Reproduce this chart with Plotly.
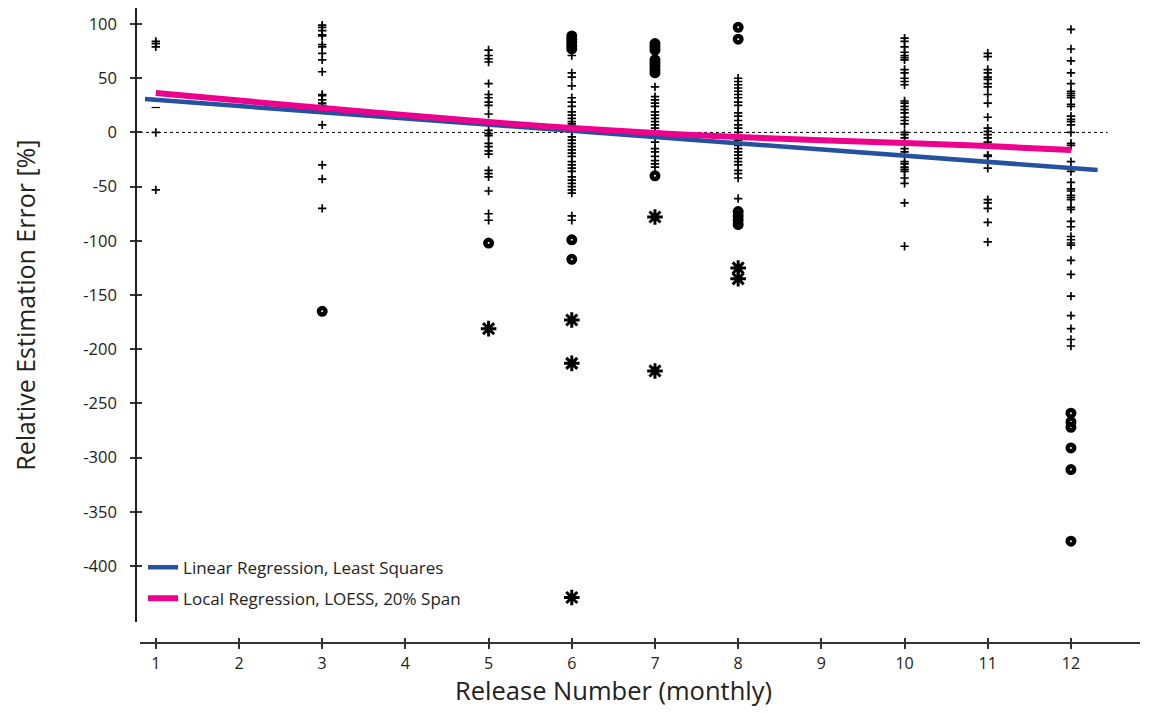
import plotly.graph_objects as go

# ---------------- data ----------------
x_ticks = [1, 2, 3, 4, 5, 6, 7, 8, 9, 10, 11, 12]
y_ticks = [100, 50, 0, -50, -100, -150, -200, -250, -300, -350, -400]

# small "+" markers, per release
plus_r1 = [84, 82, 79, 0, -53]
plus_r3 = [99, 97, 94, 90, 89, 81, 79, 73, 67, 56, 35, 34, 30, 27, 25, 7, -30, -43, -70]
plus_r5 = [76, 71, 68, 65, 45, 35, 32, 28, 25, 17, 2, -1, -3, -10, -13, -17, -20, -35, -38, -41, -54, -75, -81]
plus_r6 = [71, 55, 51, 43, 32, 28, 24, 19, 16, 13, 10, 8, 6, 4, 1, -4, -7, -10, -13, -16, -19, -22,
           -27, -30, -33, -36, -41, -44, -47, -50, -53, -56, -77, -81]
plus_r7 = [42, 33, 30, 27, 24, 19, 16, 13, 10, 7, 4, 1, -9, -15, -18, -22, -26, -29, -32]
plus_r8 = [50, 47, 44, 41, 38, 35, 32, 28, 25, 18, 15, 11, 7, 4, 0, -7, -12, -15, -18, -21, -24, -27,
           -30, -35, -38, -42, -61]
plus_r10 = [87, 84, 79, 74, 71, 69, 67, 58, 55, 50, 47, 44, 29, 27, 24, 21, 18, 14, 11, 8, 0, -2, -5,
            -15, -18, -27, -29, -32, -34, -36, -42, -47, -65, -105]
plus_r11 = [73, 70, 58, 55, 51, 49, 45, 42, 35, 27, 14, 4, 1, -2, -5, -9, -21, -22, -33, -62, -65, -70, -83, -101]
plus_r12 = [95, 77, 66, 55, 45, 38, 36, 34, 32, 26, 24, 15, 12, 10, 7, 0, -10, -12, -27, -36, -46, -52,
            -54, -58, -60, -62, -69, -71, -82, -87, -96, -99, -102, -104, -118, -131, -151, -169, -181,
            -191, -197]

# dash marker
dash_x = [1]
dash_y = [23]

# bold circle markers
circle_x = [3, 5, 6, 6, 6, 6, 6, 6, 6, 7, 7, 7, 7, 7, 7, 7, 7, 7, 8, 8, 8, 8, 8, 8,
            12, 12, 12, 12, 12, 12]
circle_y = [-165, -102, 89, 86, 83, 80, 77, -99, -117, 82, 79, 76, 67, 64, 61, 58, 55, -40,
            97, 86, -73, -77, -81, -85, -259, -267, -272, -291, -311, -377]

# asterisk markers
star_x = [5, 6, 6, 6, 7, 7, 8, 8]
star_y = [-181, -173, -213, -429, -78, -220, -125, -135]

# regression lines
lin_x = [0.87, 12.32]
lin_y = [30.8, -34.7]
loess_x = [1, 3, 5, 6, 7, 8, 10, 11, 12]
loess_y = [36.3, 22.5, 9.6, 4.0, -0.5, -4.2, -9.8, -12.6, -16.2]

# zero reference line
zero_x = [0.81, 12.44]
zero_y = [0, 0]

# ---------------- figure ----------------
plus_groups = [(1, plus_r1), (3, plus_r3), (5, plus_r5), (6, plus_r6), (7, plus_r7),
               (8, plus_r8), (10, plus_r10), (11, plus_r11), (12, plus_r12)]
plus_x, plus_y = [], []
for r, vals in plus_groups:
    plus_x += [r] * len(vals)
    plus_y += vals

FONT = "Open Sans"
fig = go.Figure()

fig.add_trace(go.Scatter(x=zero_x, y=zero_y, mode="lines",
                         line=dict(color="black", width=1, dash="dot"),
                         showlegend=False, hoverinfo="skip"))
fig.add_trace(go.Scatter(x=plus_x, y=plus_y, mode="markers",
                         marker=dict(symbol="cross-thin-open", size=6, color="black",
                                     line=dict(color="black", width=1.7)),
                         showlegend=False))
fig.add_trace(go.Scatter(x=dash_x, y=dash_y, mode="markers",
                         marker=dict(symbol="line-ew-open", size=6, color="black",
                                     line=dict(color="black", width=1.2)),
                         showlegend=False))
fig.add_trace(go.Scatter(x=circle_x, y=circle_y, mode="markers",
                         marker=dict(symbol="circle-open", size=6.5, color="black",
                                     line=dict(color="black", width=4.5)),
                         showlegend=False))
fig.add_trace(go.Scatter(x=star_x, y=star_y, mode="markers",
                         marker=dict(symbol="asterisk-open", size=13, color="black",
                                     line=dict(color="black", width=3)),
                         showlegend=False))
fig.add_trace(go.Scatter(x=lin_x, y=lin_y, mode="lines",
                         line=dict(color="#2451a0", width=4.5),
                         legendgroup="a",
                         name="Linear Regression, Least Squares"))
fig.add_trace(go.Scatter(x=loess_x, y=loess_y, mode="lines",
                         line=dict(color="#ec008c", width=6, shape="spline"),
                         legendgroup="b",
                         name="Local Regression, LOESS, 20% Span"))
# helper trace for overlay axes (cross-style ticks)
fig.add_trace(go.Scatter(x=[None], y=[None], xaxis="x2", yaxis="y2", showlegend=False,
                         hoverinfo="skip"))

xr = [0.81, 12.83]
yr = [-451.6, 114.8]
xdom = [4 / 1004, 1]
ydom = [21 / 635, 1]

# the page body adds an 8px offset, so the figure is 8px smaller on each axis
fig.update_layout(
    width=1146, height=705,
    margin=dict(l=128, r=14, t=0, b=70, autoexpand=False),
    paper_bgcolor="white", plot_bgcolor="white",
    font=dict(family=FONT, color="#222"),
    xaxis=dict(range=xr, domain=xdom, anchor="free", position=0, automargin=False,
               tickmode="array", tickvals=x_ticks, ticktext=[str(v) for v in x_ticks],
               showgrid=False, zeroline=False, showline=True, linecolor="#333", linewidth=2,
               ticks="outside", ticklen=5, tickwidth=1.5, tickcolor="#333",
               tickfont=dict(size=16, family=FONT, color="#222"),
               ticklabelstandoff=1),
    yaxis=dict(range=yr, domain=ydom, anchor="free", position=0, automargin=False,
               tickmode="array", tickvals=y_ticks, ticktext=[str(v) for v in y_ticks],
               showgrid=False, zeroline=False, showline=True, linecolor="#222", linewidth=1.5,
               ticks="outside", ticklen=5, tickwidth=1.5, tickcolor="#333",
               tickfont=dict(size=16.5, family=FONT, color="#222"),
               ticklabelstandoff=10),
    xaxis2=dict(range=xr, domain=xdom, overlaying="x", anchor="free", position=0, automargin=False,
                tickmode="array", tickvals=x_ticks, showticklabels=False,
                showgrid=False, zeroline=False, showline=False,
                ticks="inside", ticklen=5, tickwidth=1.5, tickcolor="#333"),
    yaxis2=dict(range=yr, domain=ydom, overlaying="y", anchor="free", position=0, automargin=False,
                tickmode="array", tickvals=y_ticks, showticklabels=False,
                showgrid=False, zeroline=False, showline=False,
                ticks="inside", ticklen=5, tickwidth=1.5, tickcolor="#333"),
    legend=dict(x=0.007, y=0.147, xanchor="left", yanchor="top",
                bgcolor="rgba(0,0,0,0)", font=dict(size=17, family=FONT, color="#222"),
                traceorder="grouped", tracegroupgap=6, itemwidth=30),
    showlegend=True,
    annotations=[
        dict(text="Release Number (monthly)", xref="paper", yref="paper",
             x=0.476, y=-0.074, xanchor="center", yanchor="middle", showarrow=False,
             borderpad=0, font=dict(size=25.5, family=FONT, color="#222")),
        dict(text="Relative Estimation Error [%]", xref="paper", yref="paper",
             x=-0.110, y=0.532, xanchor="center", yanchor="middle", showarrow=False,
             borderpad=0, textangle=-90, font=dict(size=25, family=FONT, color="#222")),
    ],
)

fig.write_html("out.html")
